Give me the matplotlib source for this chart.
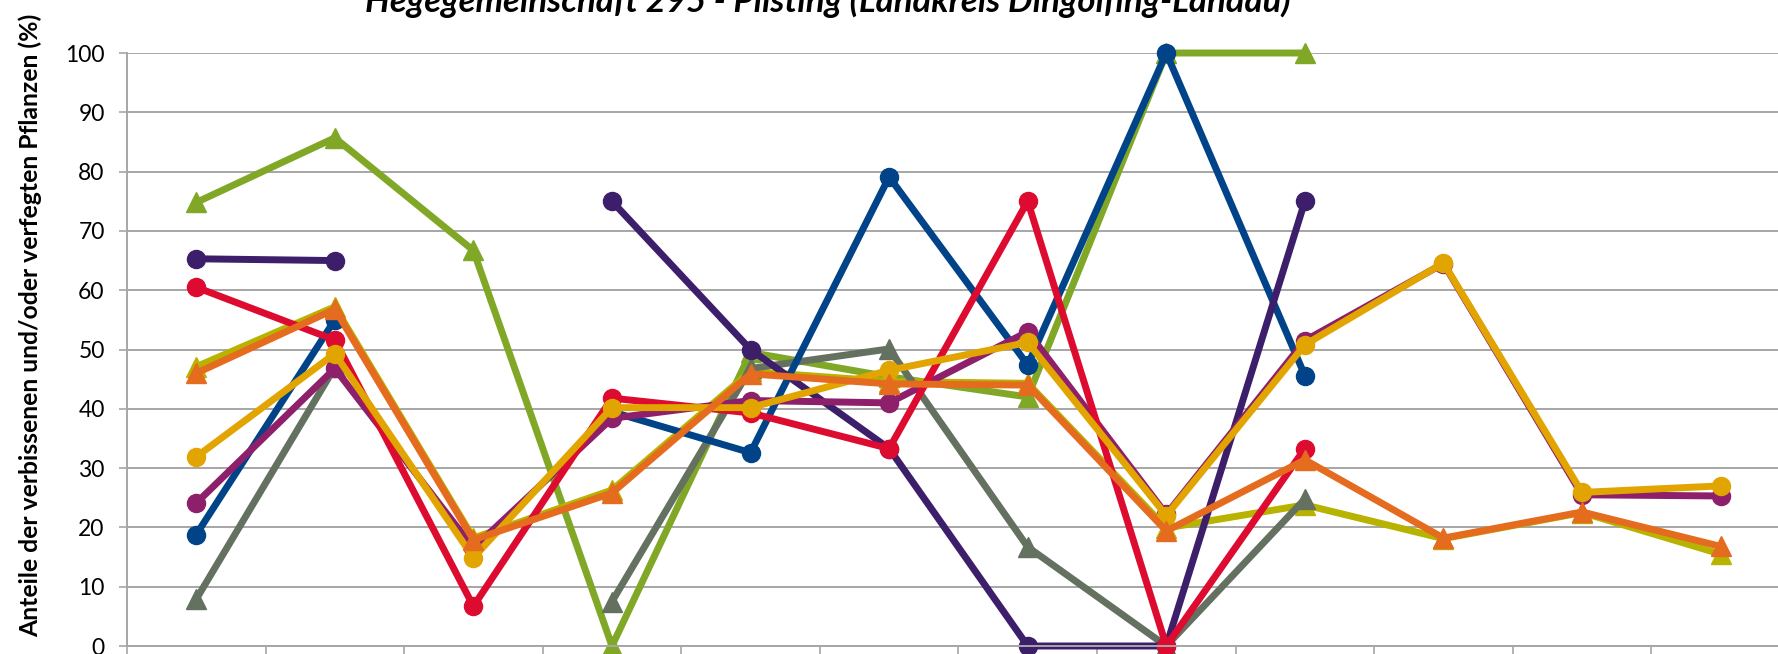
import numpy as np
import matplotlib
matplotlib.use("Agg")
import matplotlib.pyplot as plt

nan = np.nan

# 12 survey years (x labels lie below the visible crop)
years = ["1991", "1994", "1997", "2000", "2003", "2006",
         "2009", "2012", "2015", "2018", "2021", "2024"]

# circle series
blue    = [18.8, 55.0, nan, 39.5, 32.6, 79.1, 47.4, 100, 45.6, nan, nan, nan]
purple  = [65.3, 65.0, nan, 75.0, 50.0, 33.3, 0.0, 0.0, 75.0, nan, nan, nan]
magenta = [24.1, 46.8, 16.5, 38.4, 41.4, 41.0, 53.0, 22.2, 51.5, 64.5, 25.5, 25.3]
red     = [60.5, 51.6, 6.7, 41.8, 39.3, 33.3, 75.0, 0.0, 33.3, nan, nan, nan]
gold    = [31.9, 49.3, 14.9, 40.2, 40.2, 46.5, 51.2, 22.0, 50.8, 64.6, 25.9, 27.0]

# triangle series
green   = [74.8, 85.7, 66.7, 0.0, 49.5, 45.4, 42.0, 100, 100, nan, nan, nan]
olive   = [47.1, 57.2, 18.2, 26.3, 46.3, 44.6, 44.3, 19.9, 23.8, 18.1, 22.5, 15.5]
grey    = [7.9, 47.0, nan, 7.5, 46.8, 50.1, 16.7, 0.0, 24.8, nan, nan, nan]
orange  = [46.0, 56.8, 17.9, 25.8, 45.9, 44.2, 44.0, 19.4, 31.4, 18.2, 22.6, 16.8]

title = "Hegegemeinschaft 295 - Pilsting (Landkreis Dingolfing-Landau)"
ylabel = "Anteile der verbissenen und/oder verfegten Pflanzen (%)"

plt.rcParams['font.family'] = ['Lato', 'DejaVu Sans']

fig = plt.figure(figsize=(17.78, 6.54), dpi=100)
ax = fig.add_axes([0.0714, 0.01223, 0.9353, 0.9067])

x = np.arange(len(years))
gridc = "#A6A6A6"

# drawing order: bottom -> top
series = [
    (green,   "#80A826", "^"),
    (olive,   "#B8B200", "^"),
    (grey,    "#647060", "^"),
    (blue,    "#004388", "o"),
    (purple,  "#3C1E6B", "o"),
    (magenta, "#8E1F6A", "o"),
    (red,     "#DC0B2F", "o"),
    (gold,    "#E2A400", "o"),
    (orange,  "#E56B1F", "^"),
]
for vals, col, mk in series:
    ax.plot(x, vals, color=col, lw=5, marker=mk,
            ms=13 if mk == "o" else 14, mec=col, mfc=col, clip_on=False)

ax.set_xlim(-0.5, len(years) - 0.5)
ax.set_ylim(0, 100)
ax.set_yticks(range(0, 101, 10))
ax.set_xticks(np.arange(-0.5, len(years), 1.0))
ax.set_xticklabels([])
ax.grid(axis="y", color=gridc, lw=1.4)
ax.set_axisbelow(True)
for s in ["top", "right"]:
    ax.spines[s].set_visible(False)
for s in ["left", "bottom"]:
    ax.spines[s].set_color(gridc)
    ax.spines[s].set_linewidth(1.4)
ax.tick_params(axis="both", direction="out", color=gridc, width=1.2, length=6)
ax.tick_params(axis="y", labelsize=16.5, pad=10)

fig.text(0.4657, 0.982, title, ha="center", va="baseline",
         fontsize=25, fontweight="bold", fontstyle="italic")
fig.text(0.017, 0.503, ylabel, rotation=90, ha="center", va="center",
         fontsize=17.8, fontweight="bold")

fig.savefig("out.png", dpi=100)
